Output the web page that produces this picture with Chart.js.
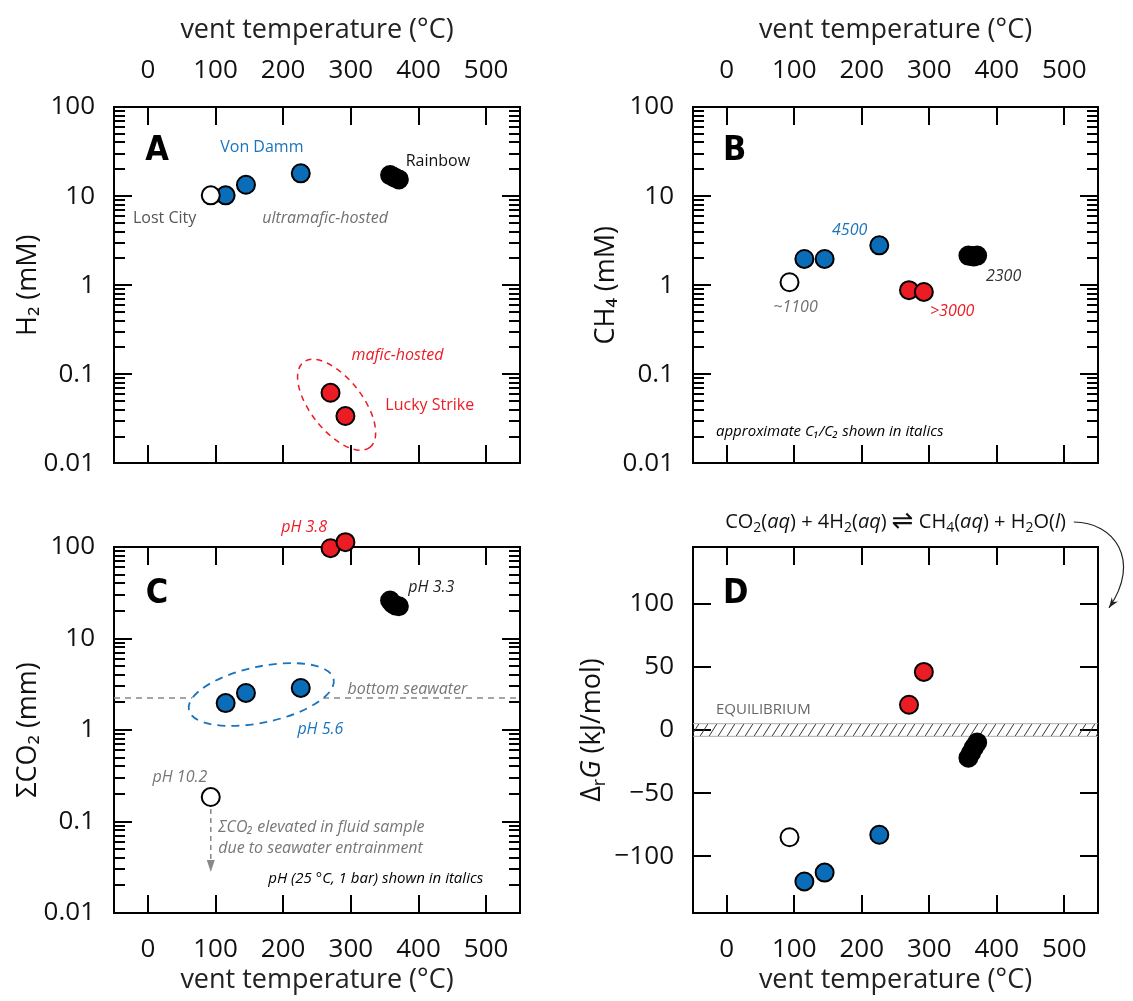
<!DOCTYPE html>
<html><head><meta charset="utf-8">
<script src="https://cdn.jsdelivr.net/npm/chart.js@4.4.1/dist/chart.umd.min.js"></script>
<style>
html,body{margin:0;padding:0;background:#fff;}
#wrap{position:relative;width:1133px;height:1001px;overflow:hidden;background:#fff;}
canvas{position:absolute;}
</style></head><body>
<div id="wrap">
<canvas id="cA" width="560" height="490" style="left:0;top:0"></canvas>
<canvas id="cB" width="573" height="490" style="left:560px;top:0"></canvas>
<canvas id="cC" width="560" height="511" style="left:0;top:490px"></canvas>
<canvas id="cD" width="573" height="511" style="left:560px;top:490px"></canvas>
</div>
<script>
// ---------- data ----------
const tempTicks = [0, 100, 200, 300, 400, 500];
const tempTickLabels = ['0', '100', '200', '300', '400', '500'];
const logTicks = [0.01, 0.1, 1, 10, 100];
const logTickLabels = ['0.01', '0.1', '1', '10', '100'];
const dgTicks = [-100, -50, 0, 50, 100];
const dgTickLabels = ['\u2212100', '\u221250', '0', '50', '100'];

// vent temperatures (°C)
const lostCityT = [93];
const vonDammT = [115, 145, 226];
const luckyStrikeT = [270, 292];
const rainbowT = [358, 362, 366, 371];

// A: H2 (mM)
const h2LostCity = [10.2];
const h2VonDamm = [10.2, 13.4, 18];
const h2LuckyStrike = [0.062, 0.034];
const h2Rainbow = [17.2, 16.6, 16.0, 15.4];

// B: CH4 (mM)
const ch4LostCity = [1.08];
const ch4VonDamm = [1.97, 1.97, 2.8];
const ch4LuckyStrike = [0.88, 0.84];
const ch4Rainbow = [2.15, 2.12, 2.1, 2.15];

// C: sum CO2 (mm)
const co2LostCity = [0.185];
const co2VonDamm = [1.97, 2.54, 2.88];
const co2LuckyStrike = [97, 113];
const co2Rainbow = [26, 24, 23, 22.5];
const bottomSeawaterCO2 = 2.24;

// D: ΔrG (kJ/mol)
const dgLostCity = [-85];
const dgVonDamm = [-120, -113, -83];
const dgLuckyStrike = [20, 46];
const dgRainbow = [-22, -18, -14, -10];
const equilibriumBand = [-5, 5];

// ---------- styling ----------
const FF = '"Open Sans","Noto Sans","DejaVu Sans",sans-serif';
const BOLDF = '"DejaVu Sans Condensed","DejaVu Sans",sans-serif';
const C_BLUE = '#0b6db7', C_RED = '#ec1c24', C_GRAY = '#707070';

function pts(t, v) { return t.map((x, i) => ({x: x, y: v[i]})); }
function ds(label, t, v, fill) {
  return {label, data: pts(t, v), backgroundColor: fill, borderColor: '#000',
          borderWidth: 2, pointRadius: 9, pointHoverRadius: 9, clip: false};
}
function sets(lc, vd, ls, rb) {
  return [ds('Lost City', lostCityT, lc, '#fff'), ds('Von Damm', vonDammT, vd, C_BLUE),
          ds('Lucky Strike', luckyStrikeT, ls, C_RED), ds('Rainbow', rainbowT, rb, '#000')];
}
function logMinor() {
  const out = [];
  for (let i = 0; i < logTicks.length - 1; i++) for (let k = 2; k <= 9; k++) out.push(logTicks[i] * k);
  return out;
}

function makeFrame(major, minor) {
  function drawTicks(chart) {
    const ctx = chart.ctx, a = chart.chartArea, sx = chart.scales.x, sy = chart.scales.y;
    const L = Math.round(a.left), R = Math.round(a.right), T = Math.round(a.top), B = Math.round(a.bottom);
    ctx.save();
    ctx.fillStyle = '#000';
    for (let i = 0; i < tempTicks.length; i++) {
      const px = Math.round(sx.getPixelForValue(tempTicks[i]));
      ctx.fillRect(px - 1, T, 2, 18);
      ctx.fillRect(px - 1, B - 18, 2, 18);
    }
    for (let i = 0; i < major.length; i++) {
      const py = Math.round(sy.getPixelForValue(major[i]));
      ctx.fillRect(L, py - 1, 18, 2);
      ctx.fillRect(R - 18, py - 1, 18, 2);
    }
    for (let i = 0; i < minor.length; i++) {
      const py = Math.round(sy.getPixelForValue(minor[i]));
      ctx.fillRect(L, py - 1, 11, 2);
      ctx.fillRect(R - 11, py - 1, 11, 2);
    }
    ctx.fillRect(L - 1, T - 1, R - L + 2, 2);
    ctx.fillRect(L - 1, B - 1, R - L + 2, 2);
    ctx.fillRect(L - 1, T - 1, 2, B - T + 2);
    ctx.fillRect(R - 1, T - 1, 2, B - T + 2);
    ctx.restore();
  }
  return {id: 'frame', beforeDatasetsDraw(chart) { drawTicks(chart); }};
}

function txt(chart, s, xv, yv, color, font, align) {
  const {ctx, scales: {x, y}} = chart;
  ctx.save();
  ctx.fillStyle = color; ctx.font = font; ctx.textAlign = align || 'left'; ctx.textBaseline = 'middle';
  ctx.fillText(s, x.getPixelForValue(xv), y.getPixelForValue(yv));
  ctx.restore();
}
function ellipse(chart, xv, yv, ra, rb, deg, color, dash, fill, lw) {
  const {ctx, scales: {x, y}} = chart;
  ctx.save();
  ctx.beginPath();
  ctx.ellipse(x.getPixelForValue(xv), y.getPixelForValue(yv), ra, rb, deg * Math.PI / 180, 0, Math.PI * 2);
  if (fill) { ctx.fillStyle = fill; ctx.fill(); }
  ctx.setLineDash(dash); ctx.strokeStyle = color; ctx.lineWidth = lw || 1.5; ctx.stroke();
  ctx.restore();
}
function fontFor(st, size) {
  if (st === 'i') return 'italic ' + size + 'px ' + FF;
  if (st === 'sub') return Math.round(size * 0.68) + 'px ' + FF;
  if (st === 'big') return Math.round(size * 1.3) + 'px "DejaVu Sans",sans-serif';
  return size + 'px ' + FF;
}
function rich(ctx, parts, cx, cy, size, color, align) {
  let w = 0;
  for (const [t, st] of parts) { ctx.font = fontFor(st, size); w += ctx.measureText(t).width; }
  let xx = align === 'left' ? cx : cx - w / 2;
  ctx.fillStyle = color; ctx.textAlign = 'left'; ctx.textBaseline = 'middle';
  for (const [t, st] of parts) {
    ctx.font = fontFor(st, size);
    const dy = st === 'sub' ? size * 0.3 : 0;
    ctx.fillText(t, xx, cy + dy);
    xx += ctx.measureText(t).width;
  }
  return xx;
}

const LBL = '16px ' + FF, ITL = 'italic 16px ' + FF, ITS = 'italic 15px ' + FF, LET = 'bold 34px ' + BOLDF;

function build(id, cfg) {
  return new Chart(document.getElementById(id), {
    type: 'scatter',
    data: {datasets: cfg.datasets},
    options: {
      responsive: false, animation: false, events: [],
      layout: {padding: cfg.pad},
      plugins: {legend: {display: false}, tooltip: {enabled: false}},
      scales: {
        x: {type: 'linear', position: cfg.xPos, min: -50, max: 550,
            afterBuildTicks: s => { s.ticks = tempTicks.map(v => ({value: v})); },
            afterFit: s => { s.height = cfg.xH; },
            grid: {display: false}, border: {display: false},
            ticks: {font: {family: FF, size: 26}, color: '#111', padding: 13, maxRotation: 0,
                    autoSkip: false, callback: (v, i) => tempTickLabels[i]},
            title: {display: true, text: 'vent temperature (°C)', font: {family: FF, size: 27},
                    color: '#222', padding: cfg.xTitlePad}},
        y: {type: cfg.yType, position: 'left', min: cfg.yMin, max: cfg.yMax,
            afterBuildTicks: s => { s.ticks = cfg.yTicks.map(v => ({value: v})); },
            afterFit: s => { s.width = cfg.yW; },
            grid: {display: false}, border: {display: false},
            ticks: {font: {family: FF, size: 26}, color: '#111', padding: 11, autoSkip: false,
                    callback: (v, i) => cfg.yLabels[i]},
            title: {display: !!cfg.yTitle, text: cfg.yTitle || '', font: {family: FF, size: 27},
                    color: '#111', padding: cfg.yTitlePad || 0}}
      }
    },
    plugins: [makeFrame(cfg.yTicks, cfg.yMinor), cfg.extra]
  });
}

// ---------- Panel A ----------
build('cA', {
  datasets: sets(h2LostCity, h2VonDamm, h2LuckyStrike, h2Rainbow),
  pad: {left: 0, right: 40, top: 0, bottom: 18}, xPos: 'top', xH: 107, yW: 114, xTitlePad: 14,
  yType: 'logarithmic', yMin: 0.01, yMax: 100, yTicks: logTicks, yLabels: logTickLabels, yMinor: logMinor(),
  yTitle: 'H\u2082 (mM)', yTitlePad: 12,
  extra: {
    id: 'extraA',
    beforeDatasetsDraw(c) { ellipse(c, 279, 0.0455, 54, 26, 52, C_RED, [6, 5]); },
    afterDatasetsDraw(c) {
      txt(c, 'A', -4, 32, '#000', LET);
      txt(c, 'Von Damm', 107, 35.3, '#1a74bd', LBL);
      txt(c, 'Rainbow', 381, 24.2, '#111', LBL);
      txt(c, 'Lost City', -22, 5.67, '#555', LBL);
      txt(c, 'ultramafic-hosted', 169, 5.67, C_GRAY, ITL);
      txt(c, 'mafic-hosted', 301, 0.162, C_RED, ITL);
      txt(c, 'Lucky Strike', 351, 0.0447, C_RED, LBL);
    }
  }
});

// ---------- Panel B ----------
build('cB', {
  datasets: sets(ch4LostCity, ch4VonDamm, ch4LuckyStrike, ch4Rainbow),
  pad: {left: 0, right: 35, top: 0, bottom: 18}, xPos: 'top', xH: 107, yW: 133, xTitlePad: 14,
  yType: 'logarithmic', yMin: 0.01, yMax: 100, yTicks: logTicks, yLabels: logTickLabels, yMinor: logMinor(),
  yTitle: 'CH\u2084 (mM)', yTitlePad: 30,
  extra: {
    id: 'extraB',
    afterDatasetsDraw(c) {
      txt(c, 'B', -5.6, 32, '#000', LET);
      txt(c, '4500', 156, 4.1, '#1a74bd', ITL);
      txt(c, '~1100', 69, 0.56, C_GRAY, ITL);
      txt(c, '>3000', 301, 0.51, C_RED, ITL);
      txt(c, '2300', 384, 1.25, '#333', ITL);
      txt(c, 'approximate C\u2081/C\u2082 shown in italics', -16, 0.0227, '#000', ITS);
    }
  }
});

// ---------- Panel C ----------
build('cC', {
  datasets: sets(co2LostCity, co2VonDamm, co2LuckyStrike, co2Rainbow),
  pad: {left: 0, right: 40, top: 57, bottom: 0}, xPos: 'bottom', xH: 88, yW: 114, xTitlePad: 4,
  yType: 'logarithmic', yMin: 0.01, yMax: 100, yTicks: logTicks, yLabels: logTickLabels, yMinor: logMinor(),
  yTitle: '\u03a3CO\u2082 (mm)', yTitlePad: 12,
  extra: {
    id: 'extraC',
    beforeDatasetsDraw(c) {
      const {ctx, chartArea: a, scales: {y}} = c;
      const py = y.getPixelForValue(bottomSeawaterCO2);
      ctx.save(); ctx.strokeStyle = '#888'; ctx.lineWidth = 1.5; ctx.setLineDash([6, 5]);
      ctx.beginPath(); ctx.moveTo(a.left, py); ctx.lineTo(a.right, py); ctx.stroke(); ctx.restore();
      ellipse(c, 167.6, 2.44, 74, 28, -12, '#1a74bd', [8, 6], '#fff', 1.8);
    },
    afterDatasetsDraw(c) {
      const {ctx, scales: {x, y}} = c;
      txt(c, 'C', -3, 30.6, '#000', LET);
      txt(c, 'pH 3.8', 197, 165, C_RED, ITL);
      txt(c, 'pH 3.3', 385, 36.5, '#222', ITL);
      txt(c, 'bottom seawater', 295, 2.8, '#777', ITL);
      txt(c, 'pH 5.6', 221, 1.02, '#1a74bd', ITL);
      txt(c, 'pH 10.2', 7, 0.306, '#777', ITL);
      txt(c, '\u03a3CO\u2082 elevated in fluid sample', 104, 0.087, '#777', ITL);
      txt(c, 'due to seawater entrainment', 104, 0.051, '#777', ITL);
      txt(c, 'pH (25 \u00b0C, 1 bar) shown in italics', 178, 0.0235, '#000', ITS);
      const px = x.getPixelForValue(lostCityT[0]);
      const y0 = y.getPixelForValue(co2LostCity[0]) + 12, y1 = y.getPixelForValue(0.028);
      ctx.save(); ctx.strokeStyle = '#888'; ctx.fillStyle = '#888'; ctx.lineWidth = 1.5; ctx.setLineDash([5, 4]);
      ctx.beginPath(); ctx.moveTo(px, y0); ctx.lineTo(px, y1 - 10); ctx.stroke();
      ctx.setLineDash([]); ctx.beginPath(); ctx.moveTo(px - 4, y1 - 12); ctx.lineTo(px + 4, y1 - 12); ctx.lineTo(px, y1); ctx.closePath(); ctx.fill();
      ctx.restore();
    }
  }
});

// ---------- Panel D ----------
build('cD', {
  datasets: sets(dgLostCity, dgVonDamm, dgLuckyStrike, dgRainbow),
  pad: {left: 0, right: 35, top: 57, bottom: 0}, xPos: 'bottom', xH: 88, yW: 133, xTitlePad: 4,
  yType: 'linear', yMin: -145, yMax: 145, yTicks: dgTicks, yLabels: dgTickLabels, yMinor: [],
  yTitle: null,
  extra: {
    id: 'extraD',
    beforeDatasetsDraw(c) {
      const {ctx, chartArea: a, scales: {y}} = c;
      const y1 = y.getPixelForValue(equilibriumBand[1]), y2 = y.getPixelForValue(equilibriumBand[0]);
      ctx.save();
      ctx.beginPath(); ctx.rect(a.left, y1, a.right - a.left, y2 - y1); ctx.clip();
      ctx.strokeStyle = '#333'; ctx.lineWidth = 1;
      ctx.beginPath();
      for (let x0 = a.left - 20; x0 < a.right + 20; x0 += 9) { ctx.moveTo(x0, y2); ctx.lineTo(x0 + 8, y1); }
      ctx.stroke(); ctx.restore();
      ctx.save(); ctx.strokeStyle = '#aaa'; ctx.lineWidth = 1; ctx.beginPath();
      ctx.moveTo(a.left, y1); ctx.lineTo(a.right, y1); ctx.moveTo(a.left, y2); ctx.lineTo(a.right, y2);
      ctx.stroke(); ctx.restore();
    },
    afterDatasetsDraw(c) {
      const {ctx, chartArea: a, scales: {y}} = c;
      txt(c, 'D', -5.6, 108, '#000', LET);
      txt(c, 'EQUILIBRIUM', -16, 16.3, '#666', '15px ' + FF);
      ctx.save();
      const endX = rich(ctx, [['CO', 'r'], ['2', 'sub'], ['(', 'r'], ['aq', 'i'], [') + 4H', 'r'], ['2', 'sub'],
        ['(', 'r'], ['aq', 'i'], [') ', 'r'], ['\u21cc', 'big'], [' CH', 'r'], ['4', 'sub'], ['(', 'r'], ['aq', 'i'],
        [') + H', 'r'], ['2', 'sub'], ['O(', 'r'], ['l', 'i'], [')', 'r']], (a.left + a.right) / 2, 32, 20, '#111');
      const sx = endX + 8, sy = 32;
      const tx = a.right + 11, ty = y.getPixelForValue(100) + 4;
      ctx.strokeStyle = '#222'; ctx.lineWidth = 1.2;
      ctx.beginPath(); ctx.moveTo(sx, sy); ctx.bezierCurveTo(sx + 40, sy, 582, 70, tx, ty); ctx.stroke();
      const ang = Math.atan2(ty - 70, tx - 582);
      ctx.fillStyle = '#222'; ctx.beginPath();
      ctx.moveTo(tx, ty);
      ctx.lineTo(tx - 11 * Math.cos(ang - 0.35), ty - 11 * Math.sin(ang - 0.35));
      ctx.lineTo(tx - 7 * Math.cos(ang), ty - 7 * Math.sin(ang));
      ctx.lineTo(tx - 11 * Math.cos(ang + 0.35), ty - 11 * Math.sin(ang + 0.35));
      ctx.closePath(); ctx.fill();
      ctx.translate(32, (a.top + a.bottom) / 2); ctx.rotate(-Math.PI / 2);
      rich(ctx, [['\u0394', 'r'], ['r', 'sub'], ['G', 'i'], [' (kJ/mol)', 'r']], 0, 0, 27, '#111');
      ctx.restore();
    }
  }
});
</script>
</body></html>
